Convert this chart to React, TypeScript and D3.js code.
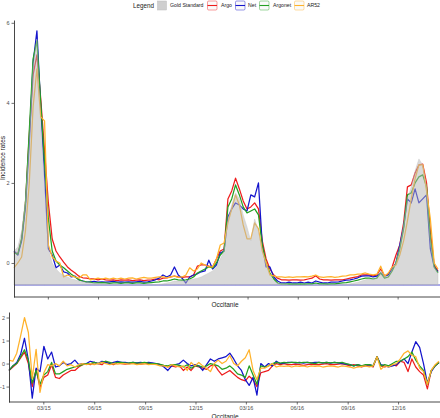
import React, { useEffect, useRef } from "react";
import * as d3 from "d3";

// weekly series, first week starting 2014-12-29
const firstWeek = "2014-12-29";

const tickDates = ["2015-03-01", "2015-06-01", "2015-09-01", "2015-12-01", "2016-03-01", "2016-06-01", "2016-09-01", "2016-12-01"];
const tickLabels = ["03/15", "06/15", "09/15", "12/15", "03/16", "06/16", "09/16", "12/16"];
const topTicks = [0, 2, 4, 6];
const bottomTicks = [-1, 0, 1, 2];
const areaFloor = -0.55;

const seriesNames = ["Argo", "Net", "Argonet", "AR52"];
const seriesColors = ["#ee1c1c", "#1414cc", "#22a022", "#ffb22a"];

// top panel: incidence rates
const goldStandard = [
  0.3, 0.4, 0.8, 1.6, 3.0, 4.9, 5.6, 3.4, 2.0, 0.35,
  0.0, -0.15, -0.25, -0.3, -0.35, -0.4, -0.42, -0.45, -0.47, -0.48,
  -0.5, -0.5, -0.52, -0.52, -0.53, -0.53, -0.54, -0.54, -0.55, -0.55,
  -0.55, -0.55, -0.55, -0.55, -0.55, -0.55, -0.54, -0.54, -0.53, -0.52,
  -0.5, -0.48, -0.45, -0.45, -0.45, -0.45, -0.42, -0.4, -0.38, -0.35,
  -0.3, -0.25, -0.2, -0.1, 0.1, 0.3, 1.1, 1.45, 1.75, 1.6,
  1.2, 0.9, 0.55, 1.1, 0.8, 0.3, -0.05, -0.3, -0.45, -0.5,
  -0.52, -0.53, -0.55, -0.55, -0.55, -0.55, -0.55, -0.55, -0.55, -0.55,
  -0.55, -0.55, -0.55, -0.55, -0.55, -0.55, -0.54, -0.53, -0.52, -0.5,
  -0.48, -0.45, -0.42, -0.4, -0.4, -0.38, -0.2, -0.35, -0.32, -0.15,
  0.0, 0.4, 0.95, 1.6, 1.9, 2.3, 2.6, 2.45, 1.9, 0.6, -0.1, -0.25,
];
const argo = [
  0.27, 0.22, 0.6, 1.5, 3.2, 4.7, 5.2, 4.1, 2.8, 1.5,
  0.6, 0.3, 0.15, 0.02, -0.1, -0.18, -0.25, -0.33, -0.37, -0.38,
  -0.4, -0.4, -0.42, -0.4, -0.42, -0.43, -0.42, -0.44, -0.42, -0.43,
  -0.42, -0.44, -0.43, -0.42, -0.44, -0.43, -0.42, -0.4, -0.42, -0.38,
  -0.37, -0.35, -0.33, -0.35, -0.36, -0.35, -0.35, -0.3, -0.08, -0.05,
  -0.05, -0.08, -0.1, 0.1, 0.3, 0.35, 1.6, 1.8, 2.12, 1.85,
  1.55, 1.35, 1.4, 1.5, 1.35, 0.55, 0.1, -0.15, -0.3, -0.38,
  -0.42, -0.42, -0.43, -0.42, -0.42, -0.43, -0.42, -0.4, -0.38, -0.32,
  -0.4, -0.42, -0.42, -0.43, -0.42, -0.42, -0.42, -0.4, -0.38, -0.36,
  -0.34, -0.3, -0.3, -0.3, -0.32, -0.3, -0.15, -0.32, -0.28, -0.1,
  0.2, 0.45, 1.0, 1.9, 1.95, 2.25, 2.45, 2.47, 2.0, 0.8, -0.05, -0.2,
];
const net = [
  0.3, 0.2, 0.55, 1.4, 3.0, 5.0, 5.8, 3.9, 2.2, 0.35,
  0.2, -0.12, -0.05, -0.22, -0.25, -0.35, -0.33, -0.42, -0.45, -0.48,
  -0.47, -0.46, -0.48, -0.47, -0.48, -0.47, -0.46, -0.48, -0.47, -0.48,
  -0.47, -0.48, -0.47, -0.46, -0.48, -0.47, -0.45, -0.42, -0.38, -0.3,
  -0.35, -0.3, -0.1, -0.3, -0.38, -0.5, -0.35, -0.3, -0.27, -0.22,
  -0.2, 0.07, -0.15, -0.05, 0.25, 0.3, 1.15, 1.35, 1.5, 1.45,
  1.35, 1.3, 1.7, 1.65, 2.0, 0.45, -0.1, -0.1, -0.35, -0.45,
  -0.5, -0.5, -0.48, -0.5, -0.5, -0.48, -0.5, -0.48, -0.5, -0.45,
  -0.48, -0.5, -0.5, -0.48, -0.48, -0.47, -0.45, -0.43, -0.42, -0.4,
  -0.37, -0.33, -0.32, -0.32, -0.35, -0.33, -0.25, -0.33, -0.3, -0.15,
  0.0, 0.45, 0.9, 1.6, 1.5, 1.85, 1.5, 1.6, 1.7, 0.35, -0.1, -0.22,
];
const argonet = [
  0.25, 0.22, 0.6, 1.5, 3.3, 5.1, 5.55, 4.0, 2.5, 1.1,
  0.3, 0.05, -0.05, -0.12, -0.2, -0.28, -0.35, -0.42, -0.45, -0.47,
  -0.48, -0.5, -0.5, -0.49, -0.5, -0.51, -0.5, -0.5, -0.51, -0.5,
  -0.5, -0.51, -0.5, -0.5, -0.51, -0.5, -0.49, -0.48, -0.47, -0.45,
  -0.45, -0.43, -0.4, -0.42, -0.43, -0.42, -0.4, -0.35, -0.25, -0.2,
  -0.15, -0.1, -0.12, 0.0, 0.2, 0.3, 1.4, 1.6, 1.95, 1.7,
  1.4, 1.25, 1.3, 1.35, 1.2, 0.45, 0.0, -0.25, -0.4, -0.5,
  -0.53, -0.53, -0.52, -0.53, -0.53, -0.52, -0.53, -0.52, -0.52, -0.5,
  -0.52, -0.52, -0.53, -0.52, -0.52, -0.51, -0.5, -0.49, -0.47, -0.45,
  -0.43, -0.4, -0.38, -0.38, -0.4, -0.38, -0.25, -0.38, -0.35, -0.2,
  0.0, 0.35, 0.85, 1.7, 1.75, 2.0, 2.15, 2.2, 1.9, 0.6, -0.1, -0.25,
];
const ar52 = [
  -0.12, 0.0, 0.15, 0.8, 2.0, 3.9, 4.85, 3.65, 3.55, 0.45,
  0.15, 0.05, 0.0, -0.35, -0.3, -0.33, -0.35, -0.38, -0.3, -0.3,
  -0.42, -0.4, -0.38, -0.4, -0.38, -0.4, -0.38, -0.4, -0.38, -0.4,
  -0.38, -0.37, -0.4, -0.38, -0.36, -0.38, -0.38, -0.36, -0.35, -0.35,
  -0.37, -0.35, -0.33, -0.36, -0.35, -0.3, -0.12, -0.2, -0.15, 0.0,
  -0.05, -0.1, -0.1, 0.1, 0.45, 0.5, 1.0, 1.35, 1.7, 1.45,
  0.95, 0.6, 0.6, 1.0, 0.85, 0.3, 0.0, -0.3, -0.32, -0.35,
  -0.35, -0.36, -0.35, -0.36, -0.35, -0.35, -0.34, -0.35, -0.33, -0.3,
  -0.35, -0.36, -0.35, -0.34, -0.36, -0.35, -0.33, -0.32, -0.3, -0.3,
  -0.28, -0.27, -0.25, -0.28, -0.3, -0.28, -0.08, -0.33, -0.25, -0.1,
  -0.05, 0.2, 0.55, 1.05, 1.6, 2.1, 2.45, 2.45, 1.8, 1.1, 0.0, -0.15,
];

// bottom panel: errors
const argoErr = [
  -0.3, -0.15, 0.0, 0.25, 0.5, 0.0, -1.0, -0.25, -1.05, -0.6,
  -0.5, -0.05, -0.6, -0.65, -0.5, -0.4, -0.3, -0.3, -0.15, -0.05,
  0.0, -0.05, 0.05, 0.0, -0.05, 0.1, 0.0, -0.05, 0.05, 0.0,
  -0.02, 0.0, 0.02, 0.0, -0.02, 0.0, 0.02, -0.02, 0.0, -0.05,
  -0.1, -0.15, -0.1, -0.15, -0.1, -0.3, -0.15, -0.3, -0.1, -0.15,
  -0.2, -0.25, -0.1, -0.05, -0.3, -0.5, -0.4, -0.3, -0.45, -0.6,
  -0.7, -0.75, -0.55, -0.7, -1.0, -0.4, -0.35, -0.3, -0.1, 0.0,
  -0.05, 0.0, -0.05, -0.05, -0.02, -0.05, -0.08, -0.05, -0.02, -0.05,
  -0.05, -0.02, 0.0, -0.05, -0.05, -0.02, 0.0, -0.05, -0.1, -0.05,
  -0.1, -0.15, -0.1, -0.1, -0.15, 0.3, -0.1, -0.15, -0.1, -0.05,
  -0.1, 0.1, 0.05, -0.35, 0.2, -0.15, -0.35, -0.5, -1.1, -0.3, -0.1, 0.05,
];
const netErr = [
  -0.3, -0.1, 0.05, 0.4, 1.1, 0.15, -1.5, -0.2, -0.35, 0.75,
  0.2, 0.5, -0.15, -0.1, 0.05, -0.05, 0.0, 0.15, -0.05, 0.0,
  0.0, 0.1, 0.05, 0.0, 0.1, 0.05, 0.0, 0.05, 0.1, 0.05,
  0.05, 0.02, 0.05, 0.03, 0.05, 0.02, 0.05, 0.03, 0.0, -0.05,
  -0.15, -0.3, -0.1, -0.05, 0.0, 0.15, 0.0, -0.1, -0.05, -0.1,
  -0.3, -0.05, 0.2, 0.1, 0.2, 0.25, 0.3, 0.45, 0.2, -0.1,
  -0.3, -0.7, -0.95, -0.6, -1.37, 0.0, -0.15, 0.0, -0.1, 0.1,
  0.0, 0.02, 0.05, 0.05, 0.03, 0.05, 0.02, 0.05, 0.03, 0.05,
  0.05, 0.03, 0.05, 0.02, 0.05, 0.03, 0.0, -0.02, -0.05, -0.1,
  -0.05, -0.1, -0.08, -0.05, -0.1, 0.3, -0.05, -0.1, -0.15, -0.1,
  -0.05, 0.1, 0.2, 0.0, 0.5, 0.95, 0.7, 0.0, -0.85, -0.35, -0.1, 0.05,
];
const argonetErr = [
  -0.3, -0.1, 0.0, 0.3, 0.6, 0.15, -0.85, -0.3, -0.9, -0.5,
  -0.35, 0.05, -0.45, -0.45, -0.35, -0.25, -0.2, -0.15, -0.1, -0.05,
  0.0, 0.0, 0.05, 0.0, 0.05, 0.1, 0.05, 0.0, 0.05, 0.05,
  0.02, 0.03, 0.05, 0.02, 0.03, 0.05, 0.02, 0.0, 0.0, -0.03,
  -0.08, -0.1, -0.05, -0.05, -0.08, -0.15, -0.05, -0.2, -0.1, -0.1,
  -0.15, -0.1, 0.0, -0.05, -0.1, -0.25, -0.2, -0.1, -0.25, -0.45,
  -0.5, -0.6, -0.1, -0.5, -0.9, -0.1, -0.15, -0.1, 0.0, 0.05,
  0.02, 0.05, 0.03, 0.05, 0.05, 0.03, 0.05, 0.05, 0.03, 0.0,
  0.05, 0.03, 0.05, 0.03, 0.05, 0.03, 0.05, 0.0, -0.05, -0.1,
  -0.05, -0.1, -0.05, -0.05, -0.1, 0.3, -0.1, -0.05, -0.1, 0.0,
  0.1, 0.1, 0.2, 0.3, 0.5, 0.15, -0.1, -0.3, -0.9, -0.3, -0.1, 0.05,
];
const ar52Err = [
  0.15, 0.1, 0.45, 1.2, 2.0, 1.35, -0.65, 0.62, -1.25, -0.4,
  -0.05, -0.1, 0.0, -0.1, 0.1, -0.1, -0.05, -0.15, -0.05, 0.0,
  -0.05, 0.0, -0.05, 0.0, 0.05, 0.0, -0.05, 0.0, -0.02, 0.0,
  0.0, -0.02, 0.0, -0.05, -0.02, 0.0, -0.05, -0.03, -0.05, -0.1,
  -0.1, -0.15, -0.05, -0.1, -0.15, -0.1, -0.3, 0.05, -0.1, 0.05,
  -0.1, -0.2, -0.35, 0.0, 0.15, 0.0, 0.1, 0.35, 0.0, -0.1,
  0.1, 0.25, 0.6, -0.3, -0.7, -0.2, -0.2, -0.1, 0.0, -0.15,
  -0.1, -0.12, -0.1, -0.15, -0.1, -0.12, -0.1, -0.15, -0.1, -0.12,
  -0.1, -0.15, -0.12, -0.1, -0.12, -0.15, -0.1, -0.12, -0.15, -0.2,
  -0.15, -0.12, -0.1, -0.15, -0.1, 0.3, -0.25, -0.1, -0.15, -0.05,
  0.0, 0.2, 0.45, 0.55, 0.35, 0.3, -0.2, -0.35, -0.9, -0.3, -0.05, 0.1,
];

const W = 440;
const H = 418;
const FONT = "'Liberation Sans', Arial, Helvetica, sans-serif";

export default function App() {
  const svgRef = useRef<SVGSVGElement>(null);

  useEffect(() => {
    const svg = d3.select(svgRef.current);
    svg.selectAll("*").remove(); // redraw from scratch

    const parse = d3.timeParse("%Y-%m-%d");
    const start = parse(firstWeek) as Date;
    const weeks = goldStandard.map((_, i) => d3.timeDay.offset(start, i * 7));
    const ticks = tickDates.map((d) => parse(d) as Date);
    const labelOf = new Map(ticks.map((t, i) => [+t, tickLabels[i]]));

    const extent = [weeks[0], weeks[weeks.length - 1]];

    // ---- top panel ----
    const xTop = d3.scaleTime().domain(extent).range([14, 438]);
    const yTop = d3.scaleLinear().domain([-0.85, 6.07]).range([297, 20]);

    const top = svg.append("g");

    const topLines = [argo, net, argonet, ar52];
    const lineTop = d3.line<number>()
      .x((_, i) => xTop(weeks[i]))
      .y((d) => yTop(d));

    // lavender floor line under the area
    top.append("line")
      .attr("x1", 14).attr("x2", W)
      .attr("y1", yTop(areaFloor)).attr("y2", yTop(areaFloor))
      .attr("stroke", "#5050d8")
      .attr("stroke-width", 1.1);

    topLines.forEach((s, k) => {
      top.append("path")
        .datum(s)
        .attr("fill", "none")
        .attr("stroke", seriesColors[k])
        .attr("stroke-width", 1.25)
        .attr("stroke-linejoin", "round")
        .attr("d", lineTop);
    });

    // gold standard drawn over the lines, semi-transparent
    const area = d3.area<number>()
      .x((_, i) => xTop(weeks[i]))
      .y0(yTop(areaFloor))
      .y1((d) => yTop(d));

    top.append("path")
      .datum(goldStandard)
      .attr("fill", "#b4b4b4")
      .attr("fill-opacity", 0.5)
      .attr("stroke", "#bdbdbd")
      .attr("stroke-opacity", 0.6)
      .attr("stroke-width", 0.6)
      .attr("d", area);

    const yAxisTop = top.append("g")
      .attr("transform", "translate(14,0)")
      .call(d3.axisLeft(yTop).tickValues(topTicks).tickFormat(d3.format("d")).tickSize(2.5).tickSizeOuter(0).tickPadding(2));

    const xAxisTop = top.append("g")
      .attr("transform", "translate(0,297)")
      .call(d3.axisBottom(xTop).tickValues(ticks).tickFormat(() => "").tickSize(2.5).tickSizeOuter(0));
    xAxisTop.select(".domain").attr("d", `M14,0H${W}`);

    top.append("text")
      .attr("transform", "translate(5,158) rotate(-90)")
      .attr("text-anchor", "middle")
      .attr("font-family", FONT)
      .attr("font-size", 6.5)
      .attr("fill", "#1a1a1a")
      .text("Incidence rates");

    top.append("text")
      .attr("x", 225).attr("y", 306.5)
      .attr("text-anchor", "middle")
      .attr("font-family", FONT)
      .attr("font-size", 6.5)
      .attr("fill", "#1a1a1a")
      .text("Occitanie");

    // ---- bottom panel ----
    const xBot = d3.scaleTime().domain(extent).range([9, 439]);
    const yBot = d3.scaleLinear().domain([-1.67, 2.24]).range([402, 312]);

    const bot = svg.append("g");
    const lineBot = d3.line<number>()
      .x((_, i) => xBot(weeks[i]))
      .y((d) => yBot(d));

    [argoErr, netErr, argonetErr, ar52Err].forEach((s, k) => {
      bot.append("path")
        .datum(s)
        .attr("fill", "none")
        .attr("stroke", seriesColors[k])
        .attr("stroke-width", 1.25)
        .attr("stroke-linejoin", "round")
        .attr("d", lineBot);
    });

    const yAxisBot = bot.append("g")
      .attr("transform", "translate(9,0)")
      .call(d3.axisLeft(yBot).tickValues(bottomTicks).tickFormat(d3.format("d")).tickSize(2.5).tickSizeOuter(0).tickPadding(1.5));

    const xAxisBot = bot.append("g")
      .attr("transform", "translate(0,402)")
      .call(d3.axisBottom(xBot).tickValues(ticks).tickFormat((d) => labelOf.get(+d) || "").tickSize(2.5).tickSizeOuter(0).tickPadding(1.5));
    xAxisBot.select(".domain").attr("d", `M9,0H${W}`);

    bot.append("text")
      .attr("x", 225).attr("y", 418.5)
      .attr("text-anchor", "middle")
      .attr("font-family", FONT)
      .attr("font-size", 6.5)
      .attr("fill", "#1a1a1a")
      .text("Occitanie");

    // axis styling
    [yAxisTop, xAxisTop, yAxisBot, xAxisBot].forEach((g) => {
      g.select(".domain").attr("stroke", "#333").attr("stroke-width", 0.9);
      g.selectAll(".tick line").attr("stroke", "#333").attr("stroke-width", 0.7);
      g.selectAll(".tick text")
        .attr("font-family", FONT)
        .attr("font-size", 5.5)
        .attr("fill", "#4d4d4d");
    });

    // ---- legend ----
    const leg = svg.append("g").attr("font-family", FONT);
    leg.append("text")
      .attr("x", 133).attr("y", 7.6)
      .attr("font-size", 6.3)
      .attr("fill", "#1a1a1a")
      .text("Legend");

    leg.append("rect")
      .attr("x", 157.5).attr("y", 1).attr("width", 9).attr("height", 9)
      .attr("fill", "#cfcfcf").attr("stroke", "#bdbdbd").attr("stroke-width", 0.5);
    leg.append("text")
      .attr("x", 170).attr("y", 7.2)
      .attr("font-size", 5.2).attr("fill", "#1a1a1a")
      .text("Gold Standard");

    const keyX = [207.5, 235.5, 259.5, 294.5];
    const textX = [221, 248, 273, 307];
    seriesNames.forEach((name, k) => {
      leg.append("rect")
        .attr("x", keyX[k]).attr("y", 1).attr("width", 9.5).attr("height", 9)
        .attr("rx", 1.2)
        .attr("fill", "#fafafa")
        .attr("stroke", seriesColors[k]).attr("stroke-opacity", 0.55).attr("stroke-width", 0.8);
      leg.append("line")
        .attr("x1", keyX[k]).attr("x2", keyX[k] + 9.5)
        .attr("y1", 5.5).attr("y2", 5.5)
        .attr("stroke", seriesColors[k]).attr("stroke-width", 1.1);
      leg.append("text")
        .attr("x", textX[k]).attr("y", 7.2)
        .attr("font-size", 5.2).attr("fill", "#1a1a1a")
        .text(name);
    });
  }, []);

  return (
    <div style={{ position: "absolute", left: 0, top: 0, width: W, height: H, background: "#fff" }}>
      <svg ref={svgRef} width={W} height={H} />
    </div>
  );
}
